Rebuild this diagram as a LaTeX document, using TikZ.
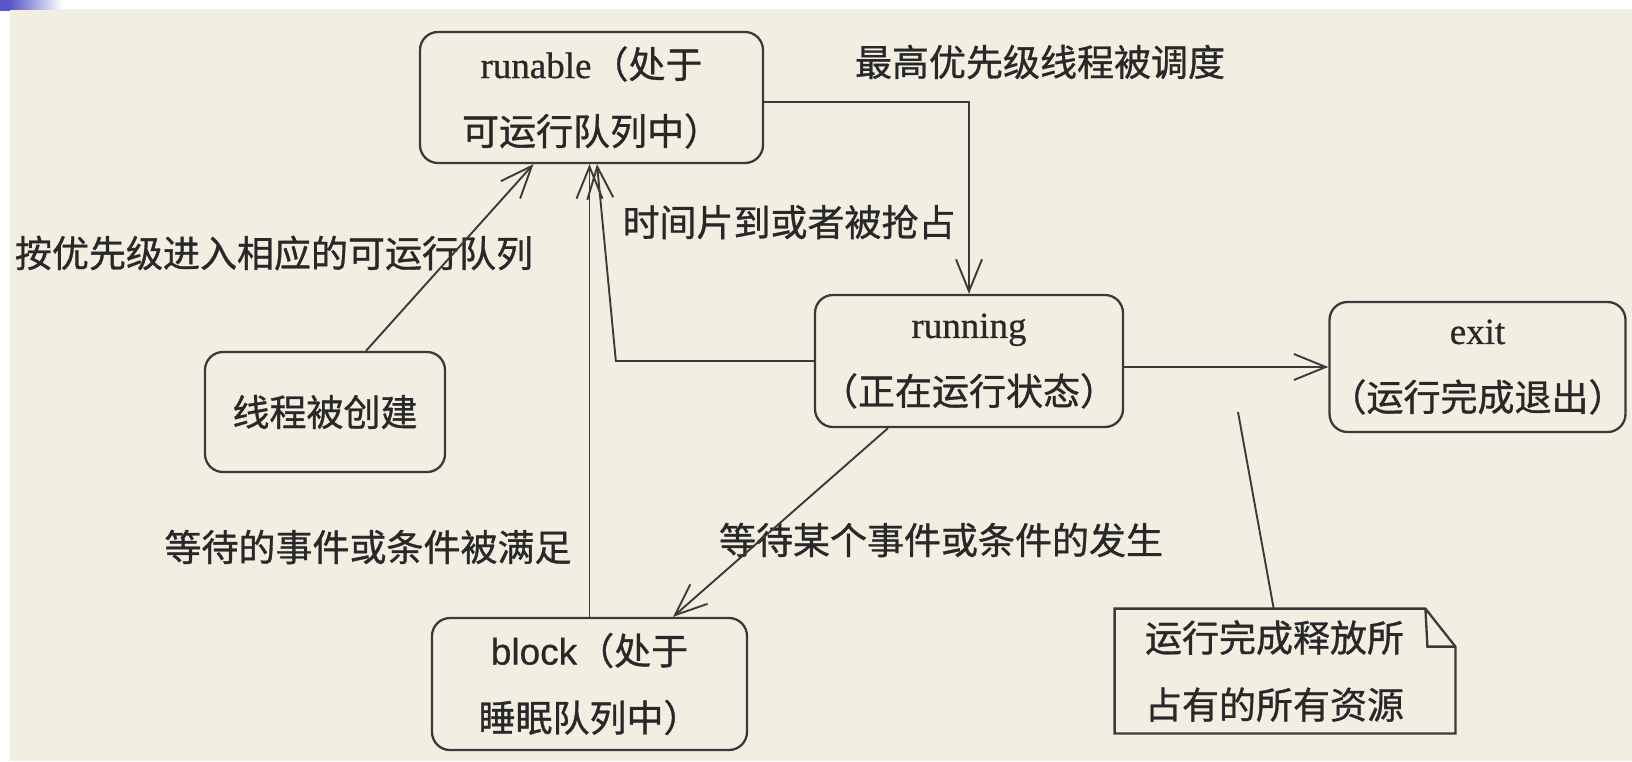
\documentclass[tikz,border=0pt]{standalone}
\usepackage{fontspec}
\setmainfont{Liberation Serif}[FakeBold=0.6]
\newfontfamily\cjk{Noto Sans CJK SC}[FakeBold=0.9]
\newfontfamily\lsans{Liberation Sans}[FakeBold=0.6]
\usetikzlibrary{arrows.meta,calc}
\definecolor{paper}{RGB}{242,239,226}
\definecolor{ink}{RGB}{40,40,40}
\definecolor{lineink}{RGB}{58,58,58}
\definecolor{slide}{RGB}{88,88,196}
\newcommand\lat[1]{{\rmfamily #1}}
\begin{document}
\begin{tikzpicture}[x=0.5pt,y=-0.5pt,
  state/.style={draw=lineink, line width=1.15pt, rounded corners=9pt, fill=paper,
    align=center, inner sep=0pt, text=ink,
    font=\cjk\fontsize{18.5pt}{33.5pt}\selectfont},
  notebox/.style={draw=lineink, line width=1.15pt},
  lbl/.style={text=ink, inner sep=0pt, font=\cjk\fontsize{18.5pt}{22pt}\selectfont},
  conn/.style={draw=lineink, line width=0.95pt},
  arr/.style={conn, -{Straight Barb[length=16pt,width=13pt,line width=0.95pt]}}
]
\useasboundingbox (0,0) rectangle (1632,761);
\fill[white] (0,0) rectangle (1632,761);
\fill[paper] (10,9) rectangle (1632,761);
\fill[slide] (0,0) rectangle (10,11);
\shade[left color=slide, right color=white] (10,0) rectangle (62,9);

% states
\node[state, minimum width=171.5pt, minimum height=65.5pt] (runable) at (591.5,97.5)
  {\lat{runable}（处于\\可运行队列中）};
\node[state, minimum width=154pt, minimum height=66pt] (running) at (969,361)
  {\lat{running}\\（正在运行状态）};
\node[state, minimum width=142.5pt, minimum height=65pt] (exit) at (1477.5,367)
  {\lat{exit}\\（运行完成退出）};
\node[state, minimum width=120pt, minimum height=60pt] (created) at (325,412)
  {线程被创建};
\node[state, minimum width=157.5pt, minimum height=66pt] (block) at (589.5,684)
  {{\lsans block}（处于\\睡眠队列中）};

% note
\node[inner sep=0pt, minimum width=170pt, minimum height=62pt, text width=140pt,
  align=left, text=ink, font=\cjk\fontsize{18.5pt}{33.5pt}\selectfont] (note) at (1285,671)
  {运行完成释放所\\占有的所有资源};
\draw[notebox] (note.north west) -- ([xshift=-15pt]note.north east)
  -- ([yshift=-19pt]note.north east) -- (note.south east) -- (note.south west) -- cycle;
\draw[notebox] ([xshift=-15pt]note.north east) -- ([xshift=-14pt,yshift=-19pt]note.north east)
  -- ([yshift=-19pt]note.north east);
\coordinate (nl) at (1238,412);
\draw[conn] (nl) -- (note);

% labels
\node[lbl] (l1) at (1040,62) {最高优先级线程被调度};
\node[lbl] (l2) at (789,222) {时间片到或者被抢占};
\node[lbl] (l3) at (274,253) {按优先级进入相应的可运行队列};
\node[lbl] (l4) at (368,547) {等待的事件或条件被满足};
\node[lbl] (l5) at (941,540) {等待某个事件或条件的发生};

% transitions
\draw[arr] ([xshift=20.5pt]created.north) -- ([xshift=-29pt]runable.south);
\draw[arr] ([yshift=-2.25pt]runable.east) -| (running.north);
\draw[arr] (running.west) -- ++(-198,0) -- ([xshift=2.75pt]runable.south);
\draw[arr] (block.north) -- (block.north |- runable.south);
\draw[arr] (exit.west -| running.east) -- (exit.west);
\draw[arr] ([xshift=-40.5pt]running.south) -- ([xshift=41.75pt]block.north);
\end{tikzpicture}
\end{document}
